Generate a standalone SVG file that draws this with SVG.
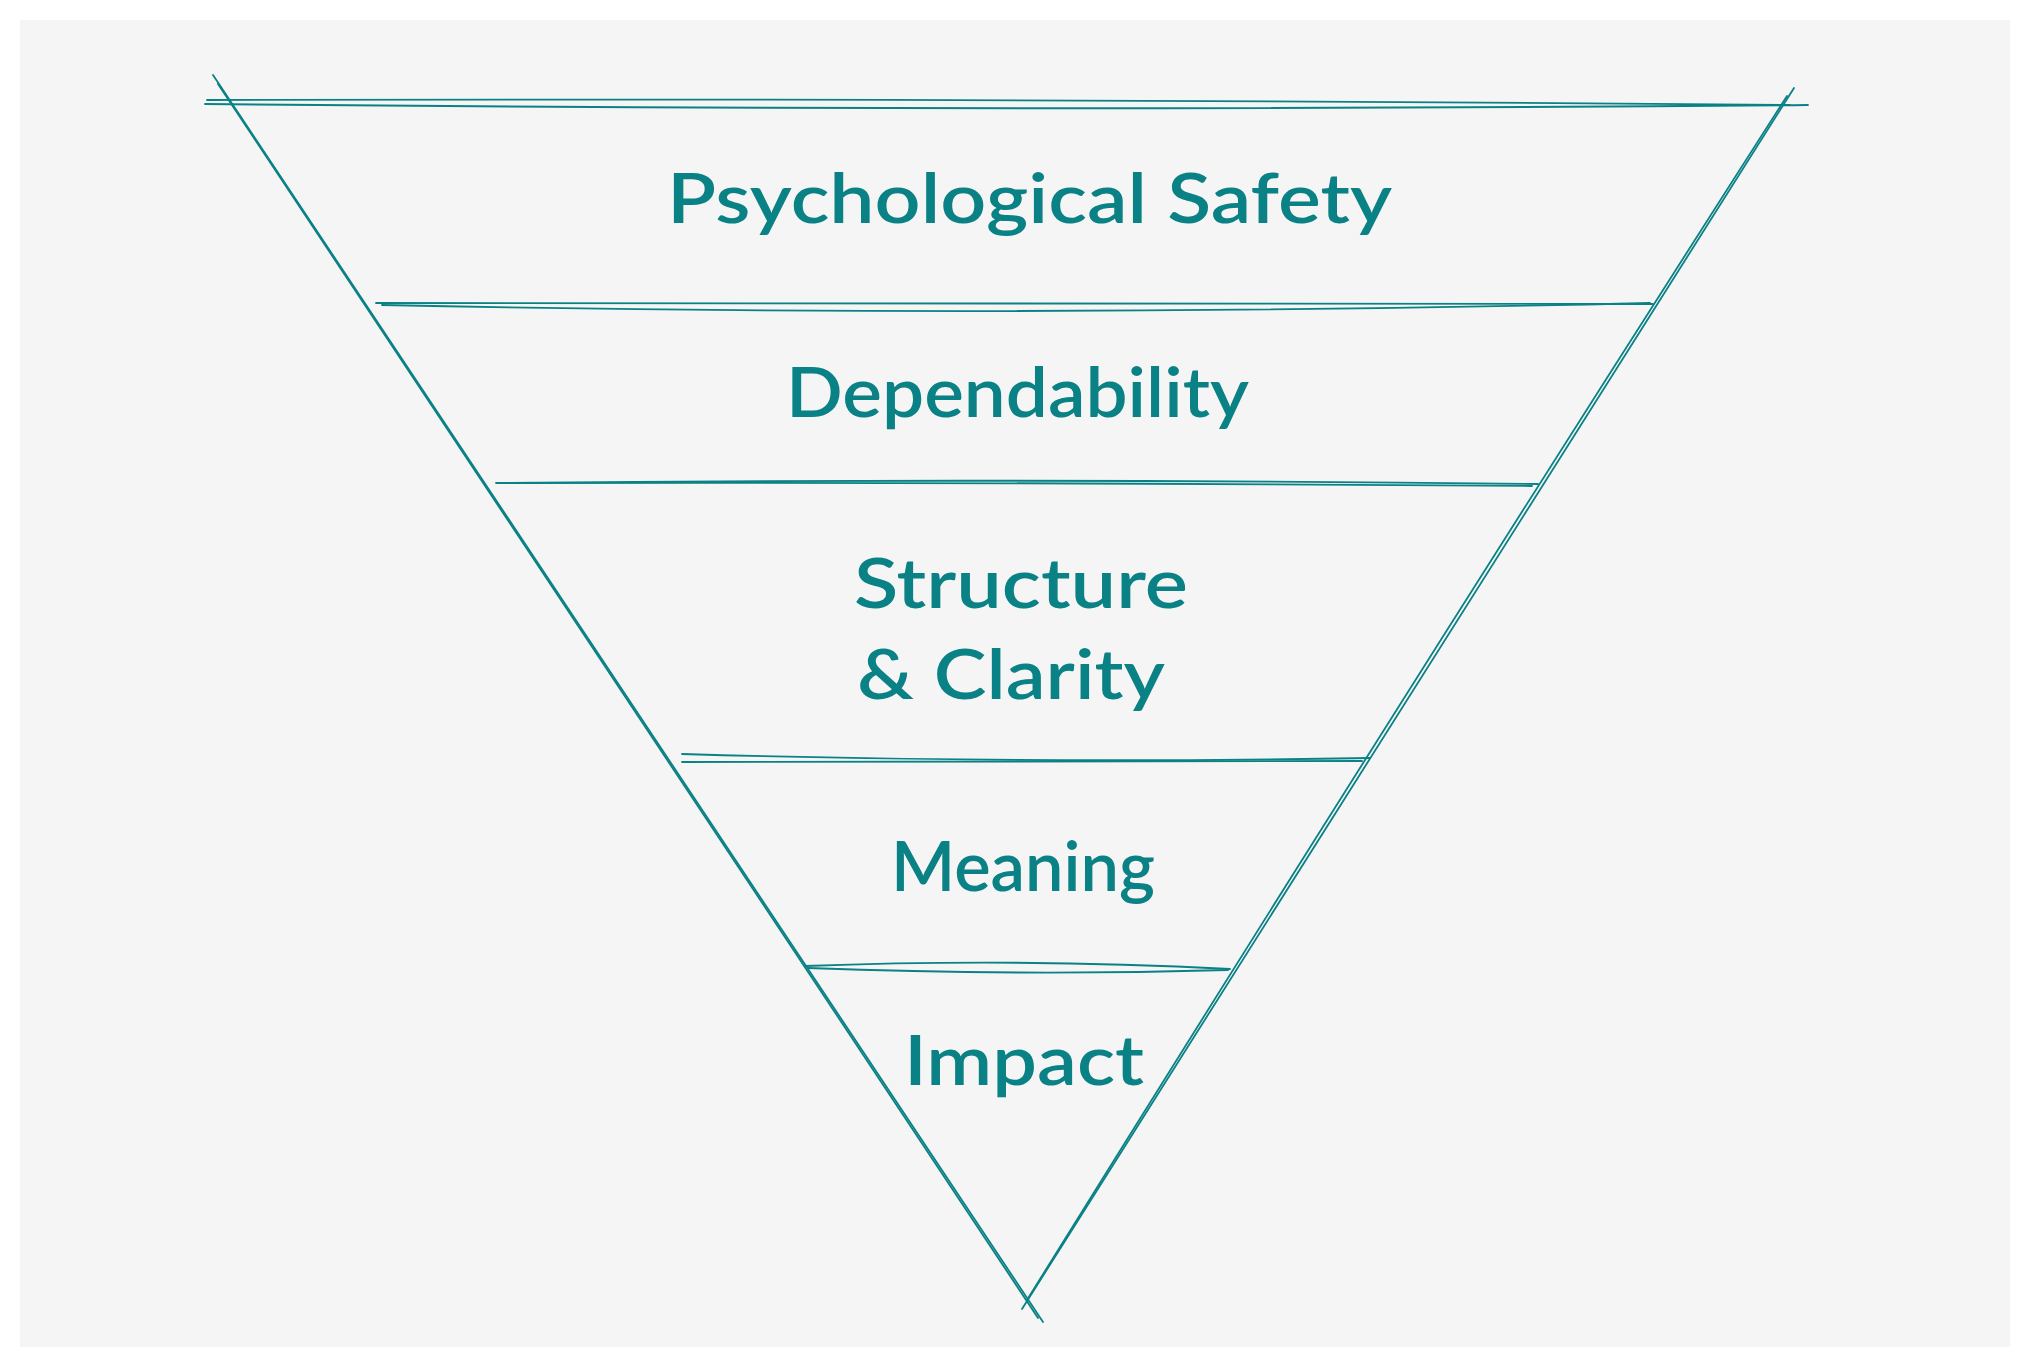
<svg xmlns="http://www.w3.org/2000/svg" width="2030" height="1367" viewBox="0 0 2030 1367">
  <style>
    .s { fill: none; stroke: #0a8185; stroke-width: 1.8; stroke-linecap: round; }
    .t { font-family: "Lato", "Open Sans", "Noto Sans", sans-serif; font-size: 70px; fill: #0a8185; font-weight: 600; }
  </style>
  <rect x="0" y="0" width="2030" height="1367" fill="#ffffff"/>
  <rect x="20" y="20" width="1990" height="1327" fill="#f5f5f5"/>
  <g id="funnel-outline">
    <path class="s" d="M213 75 L1043 1322"/>
    <path class="s" d="M218 84 L1038 1318"/>
    <path class="s" d="M1794 88 L1022 1309"/>
    <path class="s" d="M1787 96 Q1400 700 1027 1300"/>
    <path class="s" d="M207 100 Q1000 98 1790 105"/>
    <path class="s" d="M205 104 Q1000 112 1808 105"/>
  </g>
  <g id="dividers">
    <path class="s" d="M376 303 L1653 304"/>
    <path class="s" d="M382 305 Q1015 318 1650 303"/>
    <path class="s" d="M496 483 Q1000 478 1538 484"/>
    <path class="s" d="M500 483 Q1000 482 1532 486"/>
    <path class="s" d="M682 754 Q1020 764 1370 758"/>
    <path class="s" d="M682 762 L1362 761"/>
    <path class="s" d="M805 966 Q1020 958 1230 969"/>
    <path class="s" d="M808 968 Q1020 976 1228 970"/>
  </g>
  <g id="tier-psychological-safety">
    <text class="t" x="667" y="223" textLength="725" lengthAdjust="spacingAndGlyphs">Psychological Safety</text>
  </g>
  <g id="tier-dependability">
    <text class="t" x="786" y="417" textLength="463" lengthAdjust="spacingAndGlyphs">Dependability</text>
  </g>
  <g id="tier-structure-clarity">
    <text class="t" x="854" y="608" textLength="334" lengthAdjust="spacingAndGlyphs">Structure</text>
    <text class="t" x="857" y="699" textLength="308" lengthAdjust="spacingAndGlyphs">&amp; Clarity</text>
  </g>
  <g id="tier-meaning">
    <text class="t" x="891" y="891" textLength="264" lengthAdjust="spacingAndGlyphs">Meaning</text>
  </g>
  <g id="tier-impact">
    <text class="t" x="904" y="1085" textLength="240" lengthAdjust="spacingAndGlyphs">Impact</text>
  </g>
</svg>
